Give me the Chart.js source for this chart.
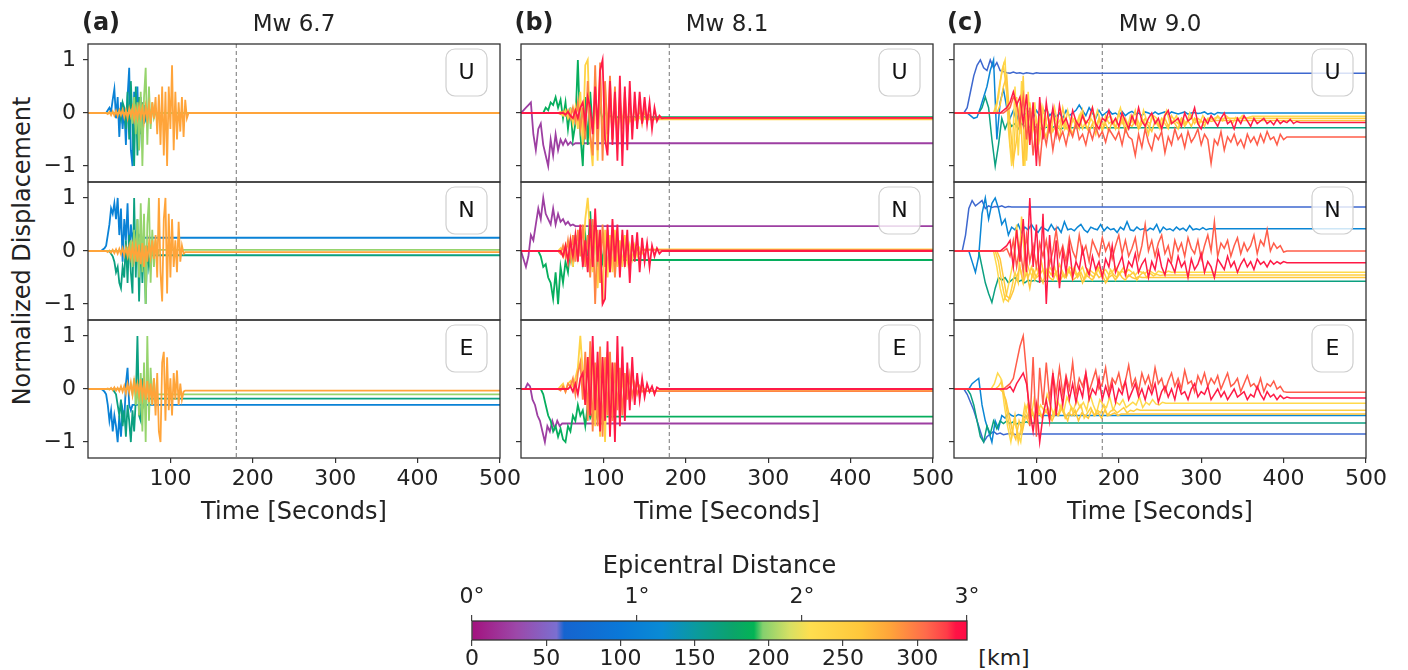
<!DOCTYPE html>
<html>
<head>
<meta charset="utf-8">
<script src="https://cdn.jsdelivr.net/npm/chart.js@4.4.1/dist/chart.umd.min.js"></script>
<style>
  body { margin: 0; background: #fff; width: 1408px; height: 670px; position: relative; overflow: hidden;
         font-family: 'DejaVu Sans', sans-serif; color: #222; }
  canvas { position: absolute; }
  .t { position: absolute; white-space: nowrap; transform: translate(-50%, -50%); line-height: 1; }
</style>
</head>
<body>
<script>
// ---- axes / labels ----
const T_MAX = 500;          // s
const MARK_T = 180;         // dashed marker, s
const X_TICKS = [100, 200, 300, 400, 500];
const Y_TICKS = [-1, 0, 1];
const COMPONENTS = ['U', 'N', 'E'];
const PANEL_TAGS = ['(a)', '(b)', '(c)'];
const EVENTS = ['Mw 6.7', 'Mw 8.1', 'Mw 9.0'];

// colour scale: epicentral distance (km)
const KM_PER_DEG = 111.19;
const DEG_TICKS = [0, 1, 2, 3];
const KM_TICKS = [0, 50, 100, 150, 200, 250, 300];
const CMAP_KM  = [0, 30, 57, 62, 100, 128, 152, 176, 190, 196, 214, 228, 262, 282, 306, 320, 326, 334];
const CMAP_HEX = ['#a3127e', '#9c48a9', '#7b6fd0', '#1664cf', '#0a78d8', '#0a8bd4', '#0b9b9b', '#0ba46a', '#03b455',
                  '#84d06e', '#d6e064', '#ffde4f', '#ffc73b', '#ffa43a', '#ff6a4b', '#ff3c48', '#ff1345', '#ff0a46'];

// ---- (a) Mw 6.7, sampled every 2 s ----
const distA = [115, 165, 200, 282];
const startA_U = [22, 36, 50, 20];
const dispA_U = [
  [0,.05,.1,.02,.25,.45,-.1,.3,-.45,.2,-.3,.1,-.6,.3,.85,-.7,-1,.4,-.2,.5,-.7,.3,-.3,.15,-.1,.05,0],
  [0,.05,-.1,.2,.1,-.3,.4,-.5,.6,-.2,-1,.5,-.8,.3,-.4,.2,-.2,.1,0],
  [0,.05,-.2,.3,-.4,.2,-.7,.4,-1,.3,.85,-.6,.5,-.3,.2,-.1,0],
  [0,0,-.02,.02,-.04,.03,-.05,.04,-.06,.05,-.04,.06,-.08,.05,-.1,.08,-.06,.1,-.12,.08,-.1,.12,-.08,.1,-.15,.12,-.1,.15,-.2,.2,-.1,
   .3,-.4,.35,-.6,.5,-.8,.4,-1,.5,-.3,.9,-.7,.4,-.5,.2,-.35,.3,-.45,.25,-.1,0]
];
const startA_N = [16, 26, 46, 20];
const dispA_N = [
  [0,.03,.05,.1,.3,.5,.8,.7,.9,.6,1,.3,.8,-.2,.6,.2,.9,-.1,.5,.2,.4,.3,.2,.3,.25,.25],
  [0,-.05,-.1,-.2,-.4,-.3,-.6,-.7,-.3,-.5,.2,-.6,.3,-.4,-.8,1,-.5,.6,-.95,.3,-.6,.2,-1,.1,-.3,-.08,-.08],
  [0,.05,-.1,.2,-.3,.4,-.2,.6,-.5,.9,-.4,.7,-1,.5,1,-.6,.4,-.3,.2,-.1,.02,.02],
  [0,0,-.02,.01,-.03,.02,-.04,.03,-.05,.04,-.06,.05,-.08,.06,-.1,.08,-.12,.1,-.15,.1,-.2,.12,-.25,.15,-.3,.1,-.2,.15,-.1,.2,-.15,
   .3,-.5,1,-.4,-.95,.6,1,-.8,.7,-.5,.6,-.3,.2,-.4,.55,-.2,.1,-.05,-.02,-.02,-.02]
];
const startA_E = [16, 30, 50, 20];
const dispA_E = [
  [0,-.02,-.05,-.1,-.3,-.6,-.4,-.8,-.5,-.7,-1,-.5,-.9,-.4,-.6,.1,.4,-.3,-.4,-.3,-.3],
  [0,-.05,-.1,-.3,-.5,-.2,-.7,-.4,-.9,-.3,-.6,-1,-.4,-.8,-.2,1,-.5,-.6,.2,-.3,-.2,-.18,-.18],
  [0,.05,-.1,.2,-.3,.1,-.5,.3,-.8,.5,-1,1,-.6,.4,-.3,.2,-.2,-.1,-.1],
  [0,0,.01,-.01,.02,-.02,.03,-.03,.02,-.04,.05,-.05,.06,-.08,.1,-.06,.12,-.1,.15,-.05,.1,-.12,.18,-.15,.1,-.2,.15,-.25,.1,-.3,.2,
   -.5,.3,-.8,-1,.5,.7,-.6,.6,-.4,.2,-.5,.3,-.2,.35,-.3,.1,-.2,-.05,-.03,-.03,-.03]
];

// ---- (b) Mw 8.1, sampled every 3 s ----
const distB = [25, 185, 245, 295, 325];
const startB_U = [0, 27, 45, 45, 51];
const dispB_U = [
  [0,.05,.1,.15,.2,-.4,-.7,-.3,-.2,-.6,-.8,-1,-.5,-.8,-.4,-.7,-.5,-.6,-.5,-.6,-.55,-.6,-.57,-.57],
  [0,.1,.05,.2,.15,.3,.1,.25,-.1,.2,-.3,.1,-.5,-.2,1,-.4,-1,.3,-.6,.4,-.3,.2,-.2,.1,-.15,.05,-.1,-.05,-.08,-.08],
  [0,.02,-.05,.05,-.1,.05,-.2,.1,-.3,.4,-.6,.9,1,-.5,-1,.6,-.9,.7,-.6,.5,-.7,.4,-.5,.3,-.4,.2,-.3,.1,-.3,-.1,-.2,-.1,-.15,-.08,-.15,-.1,-.12,-.12],
  [0,-.02,.03,-.05,.05,-.1,.1,-.15,.2,-.3,.1,-.5,.6,-.4,-.8,.9,-.7,.95,-.9,.6,-.4,.7,-.5,.5,-.6,.3,-.3,.4,-.35,.2,-.25,.15,-.2,.1,-.2,.05,-.15,-.05,-.15,-.1,-.1,-.1,-.1],
  [0,-.03,.02,-.05,-.1,.05,-.1,.1,.2,-.2,.3,.1,-.4,.5,-.3,.8,1,-.5,-.8,.6,-.6,.4,-.9,.7,-1,.5,-.7,.6,-.5,.4,-.3,.4,-.2,.3,-.2,.2,-.3,.1,-.15,-.05,-.1,-.09,-.09]
];
const startB_N = [0, 21, 45, 45, 48];
const dispB_N = [
  [0,-.15,-.3,-.1,.3,.2,.5,.8,.6,1,.7,.6,.5,.8,.5,.7,.55,.6,.5,.55,.48,.5,.47,.47],
  [0,-.1,-.3,-.25,-.5,-.6,-.9,-.4,-1,-.3,-.6,-.2,-.4,.1,-.3,.3,-.1,.2,-.2,.3,-.1,.75,-.2,.4,-.3,.2,-.2,.1,-.3,-.1,-.2,-.15,-.17,-.17],
  [0,.05,-.1,.1,-.2,.2,-.3,.3,-.1,.4,-.2,.6,1,.3,-.4,.5,-.7,.2,-1,.4,-.5,.3,-.4,.4,-.3,.2,-.3,.3,-.2,.1,-.15,.1,-.1,.05,-.05,.03,.03],
  [0,-.05,.1,-.1,.2,-.15,.3,-.2,.4,-.1,.5,-.3,.3,-.5,.6,-1,.4,-.6,.5,-.3,.4,-.4,.3,-.5,.2,-.3,.3,-.2,.15,-.2,.1,-.1,.05,-.05,.02,.02,.02,.02,.02,.02],
  [0,-.1,.1,-.2,.2,-.1,.3,-.2,.5,-.3,.2,-.4,.6,-.3,.8,-.2,.4,-1,-.9,.5,-.4,.6,-.2,.5,-.5,.4,-.3,.4,-.6,.3,-.2,.35,-.4,.25,-.2,.15,-.3,.1,-.1,.05,-.05,0,0]
];
const startB_E = [5, 24, 45, 45, 57];
const dispB_E = [
  [0,.1,.05,-.2,-.3,-.5,-.6,-.8,-1,-.7,-.8,-.6,-.75,-.6,-.7,-.65,-.65],
  [0,-.1,-.3,-.5,-.6,-.8,-.7,-.9,-.75,-.95,-1,-.7,-.8,-.5,-.6,-.3,-.5,-.4,-.7,-.3,-.55,-.45,-.6,-.4,-.55,-.5,-.52,-.52],
  [0,.05,.1,-.05,.1,.15,.05,.2,.4,1,.3,-.3,.6,-.5,.8,-.7,.4,-.9,.6,-1,.7,-.8,.5,-.6,.4,-.5,.3,-.3,.2,-.2,.3,-.1,.1,0,.05,-.05,-.04,-.04],
  [0,-.03,.05,-.05,.1,.05,.2,-.1,.3,.5,-.2,.7,-.6,.9,-.8,.5,-.7,.8,-.9,.6,-.5,.7,-.6,.5,-.4,.4,-.5,.3,-.2,.25,-.15,.1,-.1,.05,-.05,0,-.04,-.04,-.04,-.04],
  [0,.05,-.05,.1,-.1,.2,.3,-.3,.6,-.5,1,-.4,.7,-.8,.6,-.6,.9,-.9,.5,-1,1,-.7,.8,-.6,.5,-.4,.6,-.3,.3,-.2,.2,-.15,.1,-.05,.05,-.1,.03,0,0,0]
];

// ---- (c) Mw 9.0, sampled every 4 s ----
const distC = [60, 120, 165, 235, 250, 262, 310, 325];
const startC_U = [12, 16, 30, 50, 48, 52, 60, 56];
const dispC_U = [
  [0,.1,.4,.7,.9,1,.85,.8,1,.85,.95,.8,.78,.76,.75,.77,.75,.76,.74,.76,.75,.74,.76,.75,.75],
  [0,-.05,-.1,-.08,.1,.3,.5,.8,1,-.5,.2,.45,.1,-.1,.05,-.15,.1,-.05,0,.05,-.1,.05,-.05,0,.08,-.05,.02,-.08,0,-.1,.05,-.05,0,.05,.15,.05,
   -.05,.1,0,-.1,.05,-.05,0,.05,-.02,0,-.05,.03,-.05,0,.03,-.02,0,-.05,.02,0,-.03,.02,-.02,0,.02,-.03,.02,0,-.02,0,.02,-.02,0,.01,-.01,0,.02,-.02,0,-.03,.01,0,0],
  [0,.1,.3,.1,-.5,-1,-.6,-.1,-.3,-.15,-.25,-.2,-.3,-.2,-.25,-.3,-.22,-.27,-.25,-.3,-.28,-.26,-.3,-.25,-.28,-.3,-.27,-.28],
  [0,.3,.8,1,-.3,-1,.5,-.8,.6,-1,.4,-.5,.2,-.6,.1,-.3,0,-.4,.1,-.2,-.1,-.3,.05,-.2,-.1,-.25,0,-.15,-.3,-.1,-.2,.05,-.15,-.25,-.1,-.05,
   -.2,-.1,.1,-.15,-.3,-.05,-.2,-.1,-.25,.05,-.15,-.2,-.05,-.1,-.3,-.1,.05,-.2,-.15,-.05,-.25,-.1,-.2,0,-.15,-.1,-.2,-.05,-.15,-.1,-.12,
   -.08,-.1,-.15,-.05,-.1,-.2,-.08,-.12,-.05,-.1,-.08,-.06,-.06],
  [0,.2,.6,.9,.4,-.6,-.95,.3,-.4,.7,-.9,.2,-.3,-.1,-.5,.1,-.2,-.35,0,-.15,-.3,.1,-.2,-.4,-.1,-.25,-.05,-.3,-.15,-.2,.1,-.25,-.1,-.35,-.05,
   -.2,-.15,-.3,0,-.2,-.1,-.25,-.15,.05,-.3,-.1,-.2,-.4,-.05,-.15,-.25,-.1,-.2,-.3,-.05,-.15,-.2,-.1,-.25,-.15,-.05,-.2,-.1,-.15,-.25,-.1,
   -.1,-.15,-.05,-.12,-.1,-.1],
  [0,.15,.5,.7,-.2,-.9,-.5,.2,-1,.1,-.4,-.2,-.6,-.1,-.3,-.45,-.15,-.35,-.2,-.5,-.1,-.3,-.25,-.4,-.15,-.3,.05,-.25,-.35,-.2,-.4,-.1,-.3,
   -.2,-.35,-.15,-.25,-.3,-.1,-.35,-.2,-.25,-.15,-.3,-.2,-.1,-.25,-.35,-.15,-.2,-.3,-.1,-.25,-.15,-.2,-.3,-.1,-.2,-.15,-.25,-.1,-.2,-.15,
   -.18,-.12,-.16,-.14,-.14],
  [0,.05,.1,.3,.2,-.2,.3,-.5,.1,-.8,-.2,-1,-.3,-.6,-.2,-.7,-.3,-.5,-.35,-.6,-.3,-.45,-.2,-.5,-.4,-.6,-.3,-.5,-.25,-.45,-.35,-.55,-.3,-.4,
   -.5,-.35,-.6,-.3,-.45,-.5,-.8,-.4,-.65,-.3,-.55,-.7,-.4,-.5,-.35,-.75,-.45,-.6,-.3,-.5,-.4,-.65,-.35,-.55,-.45,-.3,-.6,-.4,-.5,-.95,
   -.5,-.6,-.35,-.7,-.45,-.55,-.4,-.6,-.5,-.65,-.4,-.55,-.45,-.6,-.4,-.55,-.35,-.5,-.45,-.6,-.4,-.5,-.45,-.45],
  [0,.05,.1,.2,.4,.15,.3,-.2,.35,-.6,.2,-1,.3,-.5,.2,-.3,.1,-.4,.15,-.2,-.1,-.3,.05,-.15,-.25,-.05,-.2,-.1,.1,-.2,-.3,-.1,-.15,.05,-.2,
   -.1,-.25,0,-.15,-.3,-.05,-.2,.1,-.15,-.25,-.1,0,-.2,-.1,-.3,-.05,.05,-.2,-.15,-.1,-.25,0,-.15,-.1,.1,-.2,-.3,-.1,-.2,-.05,-.15,-.25,
   -.1,0,-.2,-.15,-.3,-.1,-.2,-.05,-.15,-.25,-.1,-.2,-.15,-.1,-.2,-.15,-.22,-.12,-.2,-.15,-.18,-.12,-.2,-.16,-.18,-.18]
];
const startC_N = [10, 18, 30, 48, 50, 52, 60, 56];
const dispC_N = [
  [0,.3,.8,.95,.85,.9,.95,.8,.85,.82,.84,.83,.85,.82,.84,.83,.83],
  [0,-.2,-.4,-.1,.7,1,.6,.9,1,.8,.5,.6,.3,.45,.4,.5,.35,.45,.4,.5,.4,.35,.45,.42,.38,.5,.4,.45,.35,.55,.4,.42,.38,.45,.5,.4,.35,.45,
   .42,.4,.5,.38,.45,.4,.42,.35,.45,.4,.55,.4,.38,.45,.4,.42,.38,.43,.4,.5,.35,.45,.4,.42,.38,.45,.4,.43,.38,.48,.4,.42,.4,.44,.4,.42],
  [0,-.3,-.6,-.8,-.97,-.7,-.5,-.55,-.5,-.6,-.55,-.5,-.58,-.55,-.6,-.55,-.57,-.55,-.58,-.56,-.57],
  [0,-.3,-.7,-.95,-.8,-.5,-.2,.5,-.3,-.6,-.2,-.4,-.5,-.3,-.45,-.35,-.5,-.3,-.4,-.45,-.25,-.4,-.5,-.3,-.35,-.45,-.4,-.3,-.5,-.35,-.4,
   -.45,-.3,-.4,-.35,-.45,-.4,-.3,-.45,-.38,-.42,-.35,-.4,-.45,-.38,-.4,-.42,-.36,-.4,-.44,-.38,-.4,-.42,-.38,-.4,-.4],
  [0,-.2,-.6,-.9,-.95,-.7,-.4,-.6,.65,-.2,-.5,-.3,-.55,-.4,-.2,-.5,-.35,-.45,-.3,-.55,-.4,-.5,-.35,-.45,-.3,-.5,-.4,-.55,-.35,-.45,-.5,
   -.3,-.45,-.4,-.55,-.35,-.45,-.5,-.4,-.3,-.5,-.45,-.4,-.55,-.45,-.4,-.5,-.42,-.47,-.44,-.46,-.45,-.45],
  [0,-.15,-.5,-.85,-.9,-.75,-.5,-.3,-.6,-.4,-.7,-.35,-.5,-.45,-.6,-.35,-.5,-.55,-.4,-.6,-.45,-.5,-.35,-.55,-.5,-.4,-.6,-.45,-.5,-.55,
   -.4,-.5,-.45,-.6,-.5,-.45,-.55,-.4,-.5,-.55,-.45,-.5,-.52,-.48,-.5,-.5],
  [0,.05,-.1,.2,-.3,.1,-.4,.3,-.2,.1,-.3,.15,-.1,.2,-.25,0,.4,-.1,.1,-.2,.25,0,-.15,.3,-.05,.1,-.2,.2,.05,-.1,.25,0,.15,-.15,.1,.3,
   -.05,.2,-.1,.05,.25,-.15,.1,.5,0,.2,-.1,.15,.3,-.05,.1,-.2,.2,0,.15,-.1,.25,.05,-.05,.2,-.15,.1,.3,0,.55,-.1,.15,.05,.2,-.1,.1,.25,
   -.05,.15,0,.1,.3,-.05,.2,.1,.4,0,.15,.05,.1,-.02,0,0,0],
  [0,.05,.1,.2,-.3,.4,-.2,.6,-.4,1,-.3,.5,-.6,.7,-1,.3,-.5,.2,-.7,0,-.4,.1,-.5,-.2,-.35,.05,-.3,-.45,-.1,-.35,-.2,-.5,-.15,-.3,.1,-.4,
   -.25,-.1,-.45,-.2,-.3,-.05,-.4,-.25,-.15,-.5,-.2,-.35,0,-.3,-.45,-.15,-.25,-.4,-.1,-.3,-.2,-.5,-.15,-.35,-.25,-.05,-.4,-.2,-.3,-.5,
   -.15,-.25,-.35,-.1,-.3,-.2,-.4,-.25,-.15,-.3,-.2,-.35,-.15,-.25,-.2,-.3,-.18,-.25,-.2,-.24,-.2,-.22,-.22]
];
const startC_E = [12, 18, 16, 45, 50, 55, 60, 60];
const dispC_E = [
  [0,-.1,-.25,-.4,-.6,-.8,-1,-.9,-.85,-.8,-.85,-.83,-.86,-.85,-.84,-.85,-.86,-.85,-.85],
  [0,.1,.15,.2,-.3,-.6,-.8,-1,-.6,-.75,-.5,-.55,-.45,-.5,-.52,-.48,-.5,-.53,-.5,-.48,-.52,-.5,-.5],
  [0,-.1,-.3,-.6,-.9,-1,-.7,-.85,-.6,-.75,-.6,-.65,-.6,-.65,-.62,-.66,-.63,-.64,-.62,-.65,-.64],
  [0,.1,.3,.2,-.3,-.7,-1,-.6,-.8,-1,-.5,-.3,-.6,-.2,-.5,-.3,-.4,-.1,-.3,-.5,-.2,-.35,-.45,-.15,-.3,-.4,-.2,-.35,-.25,-.4,-.1,-.3,
   -.45,-.2,-.3,-.35,-.15,-.4,-.25,-.3,-.2,-.35,-.3,-.25,-.3,-.15,-.35,-.25,-.3,-.2,-.28,-.3,-.25,-.27,-.27],
  [0,.05,.15,-.2,-.6,-.9,-.5,-1,-.7,-.3,-.55,-.4,-.6,-.3,-.5,-.45,-.35,-.55,-.4,-.5,-.3,-.45,-.6,-.35,-.5,-.4,-.3,-.55,-.45,-.35,-.5,
   -.4,-.45,-.3,-.5,-.42,-.38,-.45,-.4,-.35,-.45,-.4,-.42,-.38,-.4,-.4],
  [0,-.05,-.2,-.5,-.8,-.95,-.6,-.8,-.5,-.65,-.4,-.6,-.45,-.55,-.4,-.5,-.6,-.45,-.5,-.35,-.55,-.45,-.5,-.4,-.6,-.45,-.5,-.55,-.4,-.5,
   -.45,-.55,-.4,-.5,-.48,-.45,-.5,-.47,-.47],
  [0,.05,.1,.2,.5,.8,1,.3,-.7,.6,-.9,.4,-.3,.5,-.2,.3,-.1,.4,-.1,.25,0,.5,-.1,.2,.05,.3,-.05,.15,.35,0,.1,.4,-.05,.2,.1,.3,0,.15,
   .45,.05,.2,-.05,.3,.1,.25,0,.4,.1,.2,-.05,.15,.3,.05,.2,0,.35,.1,.15,-.05,.25,.1,.3,.05,.2,.1,.25,0,.15,.3,.05,.1,.2,-.05,.1,.25,
   .05,.1,0,.2,-.05,.1,.05,.15,0,.05,-.05,-.06,-.06],
  [0,0,.05,-.05,.1,.2,.3,.1,-.4,-.8,-.3,-1,-.5,-.2,-.6,.3,-.5,.1,-.3,.2,-.2,.1,-.25,.05,-.15,.3,-.2,0,-.1,.2,-.2,.05,-.15,.1,-.25,0,
   -.1,.15,-.2,-.05,.1,-.15,0,-.2,.05,-.1,.1,-.25,-.05,.05,-.15,0,-.2,.1,-.1,-.05,-.2,0,.1,-.15,-.05,-.1,.05,-.2,-.1,0,-.15,-.05,-.2,
   -.1,0,-.15,-.1,-.05,-.2,-.1,-.15,.05,-.1,-.2,-.05,-.15,-.1,-.2,-.12,-.18,-.15,-.17,-.17,-.17]
];

// ---- layout (px) ----
const COL_X = [88, 521, 954];   // plot left edges
const ROW_Y = [44, 182, 320];   // plot top edges
const PLOT_W = 412, PLOT_H = 138;
const AXIS_W = 50, PAD_R = 30, PAD_V = 24, XAXIS_H = 40;
const FONT = 'DejaVu Sans';

const panels = [
  { dist: distA, dt: 2, lw: 1.8, starts: [startA_U, startA_N, startA_E], disp: [dispA_U, dispA_N, dispA_E] },
  { dist: distB, dt: 3, lw: 1.8, starts: [startB_U, startB_N, startB_E], disp: [dispB_U, dispB_N, dispB_E] },
  { dist: distC, dt: 4, lw: 1.5, starts: [startC_U, startC_N, startC_E], disp: [dispC_U, dispC_N, dispC_E] }
];

function hexRgb(h) {
  const n = parseInt(h.slice(1), 16);
  return [(n >> 16) & 255, (n >> 8) & 255, n & 255];
}

function cmap(km) {
  let i = 1;
  while (i < CMAP_KM.length - 1 && CMAP_KM[i] < km) i++;
  const f = Math.min(1, Math.max(0, (km - CMAP_KM[i - 1]) / (CMAP_KM[i] - CMAP_KM[i - 1])));
  const a = hexRgb(CMAP_HEX[i - 1]), b = hexRgb(CMAP_HEX[i]);
  const c = a.map((v, k) => Math.round(v + (b[k] - v) * f));
  return `rgb(${c[0]},${c[1]},${c[2]})`;
}

// farthest stations first so they end up on top
function traces(p, comp) {
  const order = p.dist.map((d, i) => i).sort((a, b) => p.dist[b] - p.dist[a]);
  return order.map(i => {
    const vals = p.disp[comp][i], t0 = p.starts[comp][i];
    const pts = vals.map((v, k) => ({ x: t0 + k * p.dt, y: v }));
    if (t0 > 0) pts.unshift({ x: 0, y: 0 });
    pts.push({ x: T_MAX, y: vals[vals.length - 1] });
    return { data: pts, borderColor: cmap(p.dist[i]), borderWidth: p.lw, pointRadius: 0, tension: 0, fill: false };
  });
}

const frame = {
  id: 'frame',
  beforeDatasetsDraw(chart, args, opts) {
    if (opts.mark == null) return;
    const { ctx, chartArea: a } = chart;
    const x = chart.scales.x.getPixelForValue(opts.mark);
    ctx.save();
    ctx.strokeStyle = '#8c8c8c'; ctx.lineWidth = 1.2; ctx.setLineDash([4, 3]);
    ctx.beginPath(); ctx.moveTo(x, a.top); ctx.lineTo(x, a.bottom); ctx.stroke();
    ctx.restore();
  },
  afterDatasetsDraw(chart, args, opts) {
    if (!opts.comp) return;
    const { ctx, chartArea: a } = chart;
    const w = 41, h = 47, r = 9, x = a.right - 13 - w, y = a.top + 5;
    ctx.save();
    ctx.beginPath();
    ctx.moveTo(x + r, y); ctx.arcTo(x + w, y, x + w, y + h, r); ctx.arcTo(x + w, y + h, x, y + h, r);
    ctx.arcTo(x, y + h, x, y, r); ctx.arcTo(x, y, x + w, y, r); ctx.closePath();
    ctx.fillStyle = 'rgba(255,255,255,0.8)'; ctx.fill();
    ctx.strokeStyle = '#cfcfcf'; ctx.lineWidth = 1.2; ctx.stroke();
    ctx.fillStyle = '#111'; ctx.font = `22px '${FONT}'`;
    ctx.textAlign = 'center'; ctx.textBaseline = 'middle';
    ctx.fillText(opts.comp, x + w / 2, y + h / 2 + 1);
    ctx.restore();
  },
  afterDraw(chart) {
    const { ctx, chartArea: a } = chart;
    ctx.save();
    ctx.strokeStyle = '#333'; ctx.lineWidth = 1.3;
    ctx.strokeRect(a.left, a.top, a.right - a.left, a.bottom - a.top);
    ctx.restore();
  }
};

function addCanvas(left, top, w, h) {
  const cv = document.createElement('canvas');
  cv.width = w; cv.height = h;
  Object.assign(cv.style, { left: left + 'px', top: top + 'px', width: w + 'px', height: h + 'px' });
  document.body.appendChild(cv);
  return cv;
}

function addText(txt, x, y, css) {
  const d = document.createElement('div');
  d.className = 't';
  d.textContent = txt;
  d.style.left = x + 'px'; d.style.top = y + 'px';
  Object.assign(d.style, css || {});
  document.body.appendChild(d);
}

const tickGrid = { drawOnChartArea: false, drawTicks: true, tickLength: 5, color: '#333', lineWidth: 1.2 };

panels.forEach((p, col) => {
  COMPONENTS.forEach((comp, row) => {
    const last = row === 2;
    const w = AXIS_W + PLOT_W + PAD_R;
    const h = PAD_V + PLOT_H + (last ? XAXIS_H : PAD_V);
    const cv = addCanvas(COL_X[col] - AXIS_W, ROW_Y[row] - PAD_V, w, h);
    const xScale = {
      type: 'linear', min: 0, max: T_MAX, display: last,
      afterBuildTicks: s => { s.ticks = X_TICKS.map(v => ({ value: v })); },
      grid: tickGrid, border: { display: false },
      ticks: { font: { family: FONT, size: 22 }, color: '#222', padding: 3, maxRotation: 0, autoSkip: false }
    };
    if (last) xScale.afterFit = s => { s.height = XAXIS_H; };
    new Chart(cv, {
      type: 'line',
      data: { datasets: traces(p, row) },
      plugins: [frame],
      options: {
        responsive: false, animation: false, events: [],
        layout: { padding: { left: 0, top: PAD_V, right: PAD_R, bottom: last ? 0 : PAD_V } },
        plugins: { legend: { display: false }, tooltip: { enabled: false }, frame: { mark: MARK_T, comp } },
        scales: {
          x: xScale,
          y: {
            type: 'linear', min: -1.3, max: 1.3,
            afterBuildTicks: s => { s.ticks = Y_TICKS.map(v => ({ value: v })); },
            afterFit: s => { s.width = AXIS_W; },
            grid: tickGrid, border: { display: false },
            ticks: {
              display: col === 0, font: { family: FONT, size: 22 }, color: '#222', padding: 7,
              callback: v => v < 0 ? '\u2212' + (-v) : String(v)
            }
          }
        }
      }
    });
  });
  const cx = COL_X[col] + PLOT_W / 2;
  addText(PANEL_TAGS[col], [101, 534, 965][col], 22, { fontWeight: 'bold', fontSize: '24px' });
  addText(EVENTS[col], cx, 23, { fontSize: '23px' });
  addText('Time [Seconds]', cx, 511, { fontSize: '24px' });
});

addText('Normalized Displacement', 22, 251, { fontSize: '24px', transform: 'translate(-50%,-50%) rotate(-90deg)' });

// ---- colour bar ----
const CBAR_LEFT = 472, CBAR_W = 495, CBAR_TOP = 621, CBAR_H = 19;
const CB_PAD = 40, CB_TOP_H = 51, CB_BOT_H = 30;
const maxKm = DEG_TICKS[DEG_TICKS.length - 1] * KM_PER_DEG;

addText('Epicentral Distance', CBAR_LEFT + CBAR_W / 2, 565, { fontSize: '24px' });
addText('[km]', 1004, 658, { fontSize: '22px' });

const cbCanvas = addCanvas(CBAR_LEFT - CB_PAD, CBAR_TOP - CB_TOP_H, CBAR_W + 2 * CB_PAD, CB_TOP_H + CBAR_H + CB_BOT_H);
new Chart(cbCanvas, {
  type: 'bar',
  data: {
    labels: [''],
    datasets: [{
      data: [maxKm],
      borderWidth: 0, barPercentage: 1, categoryPercentage: 1,
      backgroundColor: c => {
        const ch = c.chart, sx = ch.scales.x;
        if (!ch.chartArea || !sx) return '#888';
        const x0 = sx.getPixelForValue(0), x1 = sx.getPixelForValue(maxKm);
        const g = ch.ctx.createLinearGradient(x0, 0, x1, 0);
        CMAP_KM.forEach((km, i) => g.addColorStop(Math.min(1, km / maxKm), CMAP_HEX[i]));
        return g;
      }
    }]
  },
  plugins: [frame],
  options: {
    indexAxis: 'y', responsive: false, animation: false, events: [],
    layout: { padding: { left: CB_PAD, right: CB_PAD, top: 0, bottom: 0 } },
    plugins: { legend: { display: false }, tooltip: { enabled: false }, frame: {} },
    scales: {
      y: { display: false },
      x: {
        type: 'linear', position: 'bottom', min: 0, max: maxKm,
        afterBuildTicks: s => { s.ticks = KM_TICKS.map(v => ({ value: v })); },
        afterFit: s => { s.height = CB_BOT_H; },
        grid: { drawOnChartArea: false, drawTicks: true, tickLength: 6, color: '#444', lineWidth: 1.2 },
        border: { display: false },
        ticks: { font: { family: FONT, size: 22 }, color: '#222', padding: 0, maxRotation: 0, autoSkip: false }
      },
      deg: {
        type: 'linear', position: 'top', axis: 'x', min: 0, max: DEG_TICKS[DEG_TICKS.length - 1],
        afterBuildTicks: s => { s.ticks = DEG_TICKS.map(v => ({ value: v })); },
        afterFit: s => { s.height = CB_TOP_H; },
        grid: { drawOnChartArea: false, drawTicks: true, tickLength: 6, color: '#444', lineWidth: 1.2 },
        border: { display: false },
        ticks: { font: { family: FONT, size: 22 }, color: '#222', padding: 5, maxRotation: 0, autoSkip: false,
                 callback: v => v + '\u00b0' }
      }
    }
  }
});
</script>
</body>
</html>
